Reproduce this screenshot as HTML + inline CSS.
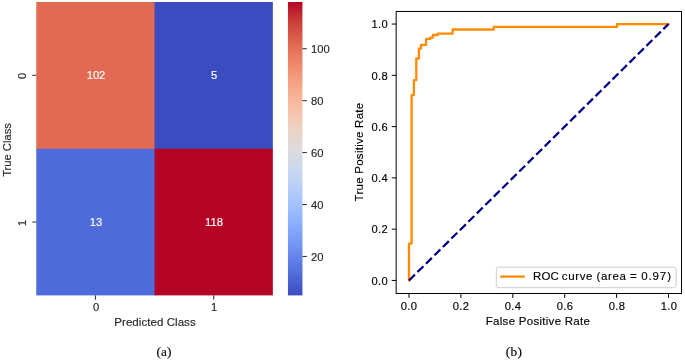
<!DOCTYPE html>
<html><head><meta charset="utf-8"><title>Confusion matrix and ROC curve</title>
<style>
html,body{margin:0;padding:0;background:#fff;}
#fig{position:relative;width:685px;height:361px;overflow:hidden;background:#fff;}
#fig svg{position:absolute;left:0;top:0;}
.t{position:absolute;white-space:nowrap;line-height:1;will-change:transform;}
.r{transform:rotate(-90deg);}
.sans{font-family:"Liberation Sans",sans-serif;-webkit-text-stroke:0.15px currentColor;}
.serif{font-family:"Liberation Serif",serif;-webkit-text-stroke:0.15px currentColor;}
</style></head><body>
<div id="fig">
<svg width="685" height="361" viewBox="0 0 685 361">
<defs><linearGradient id="cw" x1="0" y1="1" x2="0" y2="0">
<stop offset="0" stop-color="#3b4cc0"/><stop offset="0.0625" stop-color="#4e68d8"/><stop offset="0.125" stop-color="#6282ea"/><stop offset="0.1875" stop-color="#779af7"/><stop offset="0.25" stop-color="#8db0fe"/><stop offset="0.3125" stop-color="#a3c2fe"/><stop offset="0.375" stop-color="#b9d0f9"/><stop offset="0.4375" stop-color="#ccd9ed"/><stop offset="0.5" stop-color="#dddcdc"/><stop offset="0.5625" stop-color="#ecd3c5"/><stop offset="0.625" stop-color="#f5c4ac"/><stop offset="0.6875" stop-color="#f7b093"/><stop offset="0.75" stop-color="#f4987a"/><stop offset="0.8125" stop-color="#eb7d62"/><stop offset="0.875" stop-color="#dd5f4b"/><stop offset="0.9375" stop-color="#ca3b37"/><stop offset="1" stop-color="#b40426"/>
</linearGradient></defs>
<rect x="36.25" y="2.0" width="118.90" height="147.30" fill="#e26952"/>
<rect x="154.55" y="2.0" width="118.30" height="147.30" fill="#3b4cc0"/>
<rect x="36.25" y="148.70" width="118.90" height="146.70" fill="#506bda"/>
<rect x="154.55" y="148.70" width="118.30" height="146.70" fill="#b40426"/>
<rect x="287.95" y="2.0" width="14.50" height="293.40" fill="url(#cw)"/>
<line x1="32.35" x2="36.25" y1="75.35" y2="75.35" stroke="#262626" stroke-width="1"/>
<line x1="32.35" x2="36.25" y1="222.05" y2="222.05" stroke="#262626" stroke-width="1"/>
<line x1="95.40" x2="95.40" y1="295.4" y2="299.7" stroke="#262626" stroke-width="1"/>
<line x1="213.70" x2="213.70" y1="295.4" y2="299.7" stroke="#262626" stroke-width="1"/>
<line x1="302.45" x2="306.84999999999997" y1="48.74" y2="48.74" stroke="#262626" stroke-width="1"/>
<line x1="302.45" x2="306.84999999999997" y1="100.67" y2="100.67" stroke="#262626" stroke-width="1"/>
<line x1="302.45" x2="306.84999999999997" y1="152.59" y2="152.59" stroke="#262626" stroke-width="1"/>
<line x1="302.45" x2="306.84999999999997" y1="204.52" y2="204.52" stroke="#262626" stroke-width="1"/>
<line x1="302.45" x2="306.84999999999997" y1="256.45" y2="256.45" stroke="#262626" stroke-width="1"/>
<rect x="396.15" y="11.45" width="285.35" height="282.05" fill="none" stroke="#000" stroke-width="1"/>
<line x1="409.00" x2="409.00" y1="293.5" y2="297.9" stroke="#000" stroke-width="1"/>
<line x1="391.75" x2="396.15" y1="280.45" y2="280.45" stroke="#000" stroke-width="1"/>
<line x1="460.90" x2="460.90" y1="293.5" y2="297.9" stroke="#000" stroke-width="1"/>
<line x1="391.75" x2="396.15" y1="229.17" y2="229.17" stroke="#000" stroke-width="1"/>
<line x1="512.80" x2="512.80" y1="293.5" y2="297.9" stroke="#000" stroke-width="1"/>
<line x1="391.75" x2="396.15" y1="177.89" y2="177.89" stroke="#000" stroke-width="1"/>
<line x1="564.70" x2="564.70" y1="293.5" y2="297.9" stroke="#000" stroke-width="1"/>
<line x1="391.75" x2="396.15" y1="126.61" y2="126.61" stroke="#000" stroke-width="1"/>
<line x1="616.60" x2="616.60" y1="293.5" y2="297.9" stroke="#000" stroke-width="1"/>
<line x1="391.75" x2="396.15" y1="75.33" y2="75.33" stroke="#000" stroke-width="1"/>
<line x1="668.50" x2="668.50" y1="293.5" y2="297.9" stroke="#000" stroke-width="1"/>
<line x1="391.75" x2="396.15" y1="24.05" y2="24.05" stroke="#000" stroke-width="1"/>
<path d="M409.0,280.4 V243.6 H411.6 V95.2 H413.9 V80.2 H416.3 V58.5 H418.9 V48.7 H420.9 V44.9 H426.1 V38.9 H430.4 V37.7 H432.9 V35 H437.9 V33.7 H452.6 V29.5 H493.8 V26.9 H617.1 V24.05 H668.5" fill="none" stroke="#ff8c00" stroke-width="2.3" stroke-linejoin="round" stroke-linecap="square"/>
<line x1="409.00" y1="280.45" x2="668.50" y2="24.05" stroke="#000080" stroke-width="2.25" stroke-dasharray="8.33 3.59"/>
<rect x="496.3" y="267.1" width="179.9" height="20.6" rx="2.6" fill="#fff" fill-opacity="0.8" stroke="#ccc" stroke-width="1"/>
<line x1="500.2" x2="524.7" y1="276.6" y2="276.6" stroke="#ff8c00" stroke-width="2.3"/>
</svg>
<div class="t sans" style="left:310.90px;top:50.04px;transform:translate(0,-50%);color:#262626;font-size:11.2px;">100</div>
<div class="t sans" style="left:310.90px;top:101.97px;transform:translate(0,-50%);color:#262626;font-size:11.2px;">80</div>
<div class="t sans" style="left:310.90px;top:153.89px;transform:translate(0,-50%);color:#262626;font-size:11.2px;">60</div>
<div class="t sans" style="left:310.90px;top:205.82px;transform:translate(0,-50%);color:#262626;font-size:11.2px;">40</div>
<div class="t sans" style="left:310.90px;top:257.75px;transform:translate(0,-50%);color:#262626;font-size:11.2px;">20</div>
<div class="t sans" style="left:96.00px;top:75.85px;transform:translate(-50%,-50%);color:#fff;font-size:11.2px;">102</div>
<div class="t sans" style="left:214.10px;top:75.85px;transform:translate(-50%,-50%);color:#fff;font-size:11.2px;">5</div>
<div class="t sans" style="left:96.00px;top:222.55px;transform:translate(-50%,-50%);color:#fff;font-size:11.2px;">13</div>
<div class="t sans" style="left:214.10px;top:222.55px;transform:translate(-50%,-50%);color:#fff;font-size:11.2px;">118</div>
<div class="t sans" style="left:23.00px;top:75.95px;transform:translate(-50%,-50%);color:#262626;font-size:11.2px;"><div class="r">0</div></div>
<div class="t sans" style="left:23.00px;top:222.65px;transform:translate(-50%,-50%);color:#262626;font-size:11.2px;"><div class="r">1</div></div>
<div class="t sans" style="left:96.10px;top:308.00px;transform:translate(-50%,-50%);color:#262626;font-size:11.2px;">0</div>
<div class="t sans" style="left:214.40px;top:308.00px;transform:translate(-50%,-50%);color:#262626;font-size:11.2px;">1</div>
<div class="t sans" style="left:154.65px;top:323.00px;transform:translate(-50%,-50%);color:#262626;font-size:11.5px;letter-spacing:0.06px;">Predicted Class</div>
<div class="t sans" style="left:7.80px;top:150.00px;transform:translate(-50%,-50%);color:#262626;font-size:11.2px;"><div class="r">True Class</div></div>
<div class="t serif" style="left:163.60px;top:351.70px;transform:translate(-50%,-50%);color:#000;font-size:13.3px;">(a)</div>
<div class="t sans" style="left:409.15px;top:306.60px;transform:translate(-50%,-50%);color:#000;font-size:11.2px;letter-spacing:0.3px;">0.0</div>
<div class="t sans" style="left:387.60px;top:281.75px;transform:translate(-100%,-50%);color:#000;font-size:11.2px;letter-spacing:0.3px;">0.0</div>
<div class="t sans" style="left:461.05px;top:306.60px;transform:translate(-50%,-50%);color:#000;font-size:11.2px;letter-spacing:0.3px;">0.2</div>
<div class="t sans" style="left:387.60px;top:230.47px;transform:translate(-100%,-50%);color:#000;font-size:11.2px;letter-spacing:0.3px;">0.2</div>
<div class="t sans" style="left:512.95px;top:306.60px;transform:translate(-50%,-50%);color:#000;font-size:11.2px;letter-spacing:0.3px;">0.4</div>
<div class="t sans" style="left:387.60px;top:179.19px;transform:translate(-100%,-50%);color:#000;font-size:11.2px;letter-spacing:0.3px;">0.4</div>
<div class="t sans" style="left:564.85px;top:306.60px;transform:translate(-50%,-50%);color:#000;font-size:11.2px;letter-spacing:0.3px;">0.6</div>
<div class="t sans" style="left:387.60px;top:127.91px;transform:translate(-100%,-50%);color:#000;font-size:11.2px;letter-spacing:0.3px;">0.6</div>
<div class="t sans" style="left:616.75px;top:306.60px;transform:translate(-50%,-50%);color:#000;font-size:11.2px;letter-spacing:0.3px;">0.8</div>
<div class="t sans" style="left:387.60px;top:76.63px;transform:translate(-100%,-50%);color:#000;font-size:11.2px;letter-spacing:0.3px;">0.8</div>
<div class="t sans" style="left:668.65px;top:306.60px;transform:translate(-50%,-50%);color:#000;font-size:11.2px;letter-spacing:0.3px;">1.0</div>
<div class="t sans" style="left:387.60px;top:25.35px;transform:translate(-100%,-50%);color:#000;font-size:11.2px;letter-spacing:0.3px;">1.0</div>
<div class="t sans" style="left:532.50px;top:277.40px;transform:translate(0,-50%);color:#000;font-size:11.5px;word-spacing:-0.3px;"><span style="letter-spacing:.1px">ROC</span> <span style="letter-spacing:.65px">curve</span> <span style="letter-spacing:.65px;margin-left:.4px">(area</span> <span style="letter-spacing:.4px;margin-left:.6px">=</span> <span style="letter-spacing:.9px;margin-left:1.1px">0.97)</span></div>
<div class="t sans" style="left:538.25px;top:321.70px;transform:translate(-50%,-50%);color:#000;font-size:11.5px;letter-spacing:0.28px;">False Positive Rate</div>
<div class="t sans" style="left:359.90px;top:152.47px;transform:translate(-50%,-50%);color:#000;font-size:11.5px;letter-spacing:0.26px;"><div class="r">True Positive Rate</div></div>
<div class="t serif" style="left:513.90px;top:351.70px;transform:translate(-50%,-50%);color:#000;font-size:13.3px;letter-spacing:0.3px;">(b)</div>
</div>
</body></html>
